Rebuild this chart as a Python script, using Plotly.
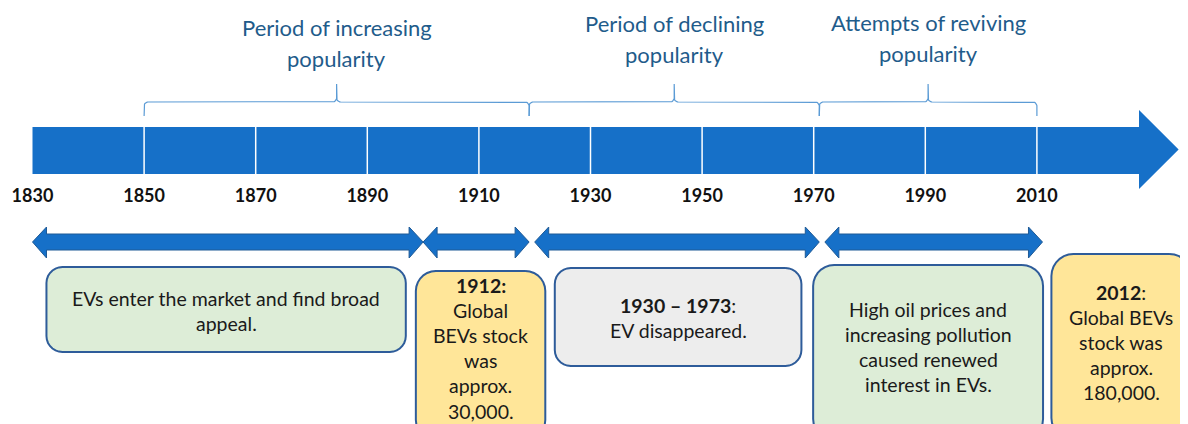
import numpy as np
import plotly.graph_objects as go

# timeline ticks
tick_years = [1830, 1850, 1870, 1890, 1910, 1930, 1950, 1970, 1990, 2010]
tick_labels = ["1830", "1850", "1870", "1890", "1910", "1930", "1950", "1970", "1990", "2010"]

# periods above the timeline (braces)
period_start = [1850, 1919, 1971]
period_end = [1919, 1971, 2010]
period_line1 = ["Period of increasing", "Period of declining", "Attempts of reviving"]
period_line2 = ["popularity", "popularity", "popularity"]

# spans below the timeline (double arrows)
span_start = [1830, 1900, 1920, 1972]
span_end = [1900, 1919, 1971, 2011]

# event boxes
box_start = [1832.5, 1898.7, 1923.6, 1969.9, 2012.6]
box_end = [1896.9, 1921.9, 1967.8, 2011.1, 2037.7]
box_lines = [
    ["EVs enter the market and find broad", "appeal."],
    ["<b>1912:</b>", "Global", "BEVs stock", "was", "approx.", "30,000."],
    ["<b>1930 \u2013 1973</b>:", "EV disappeared."],
    ["High oil prices and", "increasing pollution", "caused renewed", "interest in EVs."],
    ["<b>2012</b>:", "Global BEVs", "stock was", "approx.", "180,000."],
]

# layout / style (page has an 8px body margin, so the figure is 8px smaller)
PAGE_W, PAGE_H, OFF = 1188, 424, 8
PPY = 5.58  # pixels per year
X0_PX = 32.5  # page x of year 1830
X_MIN = 1830 + (OFF - X0_PX) / PPY
X_MAX = 1830 + (PAGE_W - X0_PX) / PPY
FONT = "Lato"
BLUE = "#1670C8"
DARK = "#1F5A96"
box_top = [267, 271, 268, 265, 254]
box_bottom = [352, 440, 366, 440, 440]
box_radius = [16, 20, 16, 21, 22]
box_fill = ["#DDEDD7", "#FFE699", "#EDEDED", "#DDEDD7", "#FFE699"]
box_text_y = [298, 285, 305, 309, 292]
title_y = [27, 23, 22]

fig = go.Figure()


def arc(cx, cy, r, a0, a1, n=8):
    t = np.linspace(np.radians(a0), np.radians(a1), n)
    return list(cx + r / PPY * np.cos(t)), list(cy - r * np.sin(t))


def rounded_box(x0, x1, y0, y1, r):
    xs, ys = [], []
    for cx, cy, a0, a1 in [(x1 - r / PPY, y0 + r, 90, 0), (x1 - r / PPY, y1 - r, 0, -90),
                           (x0 + r / PPY, y1 - r, -90, -180), (x0 + r / PPY, y0 + r, 180, 90)]:
        ax, ay = arc(cx, cy, r, a0, a1)
        xs += ax
        ys += ay
    return xs + xs[:1], ys + ys[:1]


def brace(a, b, ylow=116, ymid=102, ytop=84, r=4):
    m = (a + b) / 2
    xs, ys = [a], [ylow]
    ax, ay = arc(a + r / PPY, ymid + r, r, 180, 90); xs += ax; ys += ay
    ax, ay = arc(m - r / PPY, ymid - r, r, -90, 0); xs += ax; ys += ay
    xs += [m]; ys += [ytop]
    ax, ay = arc(m + r / PPY, ymid - r, r, 180, 270); xs += ax; ys += ay
    ax, ay = arc(b - r / PPY, ymid + r, r, 90, 0); xs += ax; ys += ay
    xs += [b]; ys += [ylow]
    return xs, ys


# main timeline arrow
head_x, tip_x = 2028.3, 2035.4
fig.add_trace(go.Scatter(
    x=[tick_years[0], head_x, head_x, tip_x, head_x, head_x, tick_years[0], tick_years[0]],
    y=[127, 127, 110, 149.5, 189, 174, 174, 127],
    fill="toself", fillcolor=BLUE, mode="lines", line=dict(color=BLUE, width=0),
    hoverinfo="skip"))

# white dividers
dx, dy = [], []
for yr in tick_years[1:]:
    dx += [yr, yr, None]
    dy += [127, 174, None]
fig.add_trace(go.Scatter(x=dx, y=dy, mode="lines", line=dict(color="white", width=1.5),
                         hoverinfo="skip"))

# tick labels
fig.add_trace(go.Scatter(x=tick_years, y=[197] * len(tick_years), text=tick_labels,
                         mode="text", textfont=dict(family=FONT, size=18, color="#111111"),
                         texttemplate="<b>%{text}</b>", hoverinfo="skip"))

# braces and period titles
for a, b, t1, t2, ty in zip(period_start, period_end, period_line1, period_line2, title_y):
    bx, by = brace(a, b)
    fig.add_trace(go.Scatter(x=bx, y=by, mode="lines", line=dict(color="#5B9BD5", width=1.2),
                             hoverinfo="skip"))
    for txt, yy in [(t1, ty), (t2, ty + 31)]:
        fig.add_annotation(x=(a + b) / 2, y=yy, text=txt, showarrow=False,
                           font=dict(family=FONT, size=22, color="#1F5C8B"))

# double arrows
hl = 14 / PPY
for a, b in zip(span_start, span_end):
    fig.add_trace(go.Scatter(
        x=[a, a + hl, a + hl, b - hl, b - hl, b, b - hl, b - hl, a + hl, a + hl, a],
        y=[242, 227, 234, 234, 227, 242, 258, 250, 250, 258, 242],
        fill="toself", fillcolor=BLUE, mode="lines", line=dict(color=DARK, width=1),
        hoverinfo="skip"))

# event boxes
for i in range(len(box_start)):
    bx, by = rounded_box(box_start[i], box_end[i], box_top[i], box_bottom[i], box_radius[i])
    fig.add_trace(go.Scatter(x=bx, y=by, fill="toself", fillcolor=box_fill[i], mode="lines",
                             line=dict(color="#2E5C9A", width=2), hoverinfo="skip"))
    cx = (box_start[i] + box_end[i]) / 2
    for j, txt in enumerate(box_lines[i]):
        fig.add_annotation(x=cx, y=box_text_y[i] + j * 25.2, text=txt, showarrow=False,
                           font=dict(family=FONT, size=19.5, color="#1A1A1A"))

fig.update_layout(
    width=PAGE_W - OFF, height=PAGE_H - OFF, margin=dict(l=0, r=0, t=0, b=0),
    paper_bgcolor="white", plot_bgcolor="white", showlegend=False,
    xaxis=dict(range=[X_MIN, X_MAX], visible=False, fixedrange=True),
    yaxis=dict(range=[PAGE_H, OFF], visible=False, fixedrange=True),
)

fig.write_html("out.html")
